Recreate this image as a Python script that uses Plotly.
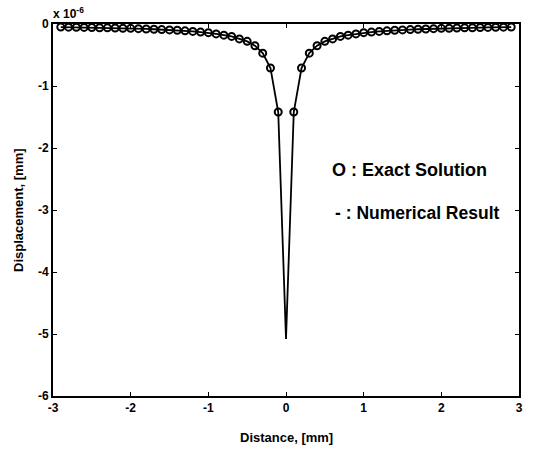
import plotly.graph_objects as go

# Exact solution sample points (mm) and displacement (x 1e-6 mm)
x_pos = [0.1, 0.2, 0.3, 0.4, 0.5, 0.6, 0.7, 0.8, 0.9, 1.0,
         1.1, 1.2, 1.3, 1.4, 1.5, 1.6, 1.7, 1.8, 1.9, 2.0,
         2.1, 2.2, 2.3, 2.4, 2.5, 2.6, 2.7, 2.8, 2.9]
u_pos = [-1.42, -0.71, -0.47, -0.35, -0.28, -0.24, -0.20, -0.18, -0.16, -0.14,
         -0.13, -0.12, -0.11, -0.10, -0.095, -0.09, -0.085, -0.08, -0.075, -0.07,
         -0.068, -0.065, -0.062, -0.06, -0.057, -0.055, -0.053, -0.051, -0.049]

exact_x = [-v for v in reversed(x_pos)] + x_pos
exact_u = list(reversed(u_pos)) + u_pos

# Numerical result includes the centre point
center_x = [0.0]
center_u = [-5.08]
num_x = [-v for v in reversed(x_pos)] + center_x + x_pos
num_u = list(reversed(u_pos)) + center_u + u_pos

x_ticks = [-3, -2, -1, 0, 1, 2, 3]
y_ticks = [0, -1, -2, -3, -4, -5, -6]

FONT = "Liberation Sans"

fig = go.Figure()
fig.add_trace(go.Scatter(x=num_x, y=num_u, mode="lines",
                         line=dict(color="black", width=1.8), showlegend=False))
fig.add_trace(go.Scatter(x=exact_x, y=exact_u, mode="markers",
                         marker=dict(symbol="circle-open", size=7,
                                     color="black", line=dict(width=2)),
                         showlegend=False))

axis_common = dict(showline=True, linecolor="black", linewidth=1.8,
                   mirror="allticks", ticks="inside", ticklen=4,
                   tickcolor="black", showgrid=False, zeroline=False,
                   tickfont=dict(family=FONT, size=12, color="black", weight="bold"))

fig.update_xaxes(range=[-3, 3], tickvals=x_ticks,
                 ticktext=[str(v) for v in x_ticks], **axis_common)
fig.update_yaxes(range=[-6, 0], tickvals=y_ticks,
                 ticktext=[str(v) for v in y_ticks], **axis_common)

fig.update_layout(
    width=534, height=449,
    margin=dict(l=53, r=11, t=24, b=53),
    plot_bgcolor="white", paper_bgcolor="white",
    annotations=[
        dict(text="x 10<sup>-6</sup>", xref="paper", yref="paper", x=0, y=1,
             xanchor="left", yanchor="bottom", showarrow=False, xshift=-2, yshift=1,
             font=dict(family=FONT, size=12, color="black", weight="bold")),
        dict(text="Distance, [mm]", xref="paper", yref="paper", x=0.5, y=0,
             xanchor="center", yanchor="middle", showarrow=False, yshift=-41,
             font=dict(family=FONT, size=13, color="black", weight="bold")),
        dict(text="Displacement, [mm]", xref="paper", yref="paper", x=0, y=0.5,
             xanchor="center", yanchor="middle", showarrow=False, xshift=-35,
             textangle=-90,
             font=dict(family=FONT, size=13, color="black", weight="bold")),
        dict(text="O : Exact Solution", xref="x", yref="y", x=0.57, y=-2.35,
             xanchor="left", yanchor="middle", showarrow=False,
             font=dict(family=FONT, size=18, color="black", weight="bold")),
        dict(text="- : Numerical Result", xref="x", yref="y", x=0.6, y=-3.05,
             xanchor="left", yanchor="middle", showarrow=False,
             font=dict(family=FONT, size=17.5, color="black", weight="bold")),
    ],
)

fig.write_html("out.html")
